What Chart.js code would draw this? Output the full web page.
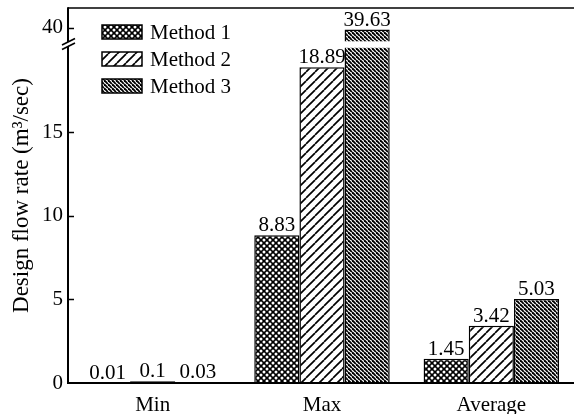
<!DOCTYPE html>
<html><head><meta charset="utf-8">
<script src="https://cdn.jsdelivr.net/npm/chart.js@4.4.1/dist/chart.umd.min.js"></script>
<style>html,body{margin:0;padding:0;overflow:hidden;background:#fff}</style>
</head><body>
<canvas id="c" width="578" height="414" style="display:block"></canvas>
<script>
const categories = ['Min', 'Max', 'Average'];
const seriesNames = ['Method 1', 'Method 2', 'Method 3'];
const method1 = [0.01, 8.83, 1.45];
const method2 = [0.1, 18.89, 3.42];
const method3 = [0.03, 39.63, 5.03];
const yTickValues = [0, 5, 10, 15, 40];

// broken axis: lower segment linear, upper segment compressed around 40
const BREAK_LOW = 19.5, UPPER_REF = 40, UPPER_POS = 21.24, UPPER_SLOPE = 0.27, Y_MAX = 22.43;
const GAP_HI = 20.44, GAP_LO = 20.05;
function mapY(v) { return v <= BREAK_LOW ? v : UPPER_POS - (UPPER_REF - v) * UPPER_SLOPE; }

const FONT = '"Liberation Serif", "Times New Roman", serif';
const FS = 21;
const canvas = document.getElementById('c');
const ctx = canvas.getContext('2d');

function tile(s, draw) {
  const t = document.createElement('canvas'); t.width = s; t.height = s;
  const g = t.getContext('2d'); draw(g, s); return ctx.createPattern(t, 'repeat');
}
const patCross = tile(6, (g, s) => {
  g.fillStyle = '#000'; g.fillRect(0, 0, s, s);
  g.fillStyle = '#fff';
  [[0, 0], [s, 0], [0, s], [s, s], [s / 2, s / 2]].forEach(([x, y]) => {
    g.beginPath(); g.arc(x, y, 1.5, 0, Math.PI * 2); g.fill();
  });
});
const patFwd = tile(9, (g, s) => {
  g.fillStyle = '#fff'; g.fillRect(0, 0, s, s);
  g.strokeStyle = '#000'; g.lineWidth = 1.7;
  for (let k = -1; k <= 1; k++) { g.beginPath(); g.moveTo(k * s, s); g.lineTo(k * s + s, 0); g.stroke(); }
});
const patBack = tile(4, (g, s) => {
  g.fillStyle = '#fff'; g.fillRect(0, 0, s, s);
  g.strokeStyle = '#000'; g.lineWidth = 1.9;
  for (let k = -1; k <= 1; k++) { g.beginPath(); g.moveTo(k * s, 0); g.lineTo(k * s + s, s); g.stroke(); }
});
const patterns = [patCross, patFwd, patBack];
const rawSeries = [method1, method2, method3];

const overlay = {
  id: 'overlay',
  afterDatasetsDraw(chart) {
    const c = chart.ctx, y = chart.scales.y;
    rawSeries.forEach((arr, di) => {
      chart.getDatasetMeta(di).data.forEach((bar, i) => {
        if (arr[i] > BREAK_LOW) {
          const hw = bar.width / 2 + 1.5;
          c.fillStyle = '#fff';
          c.fillRect(bar.x - hw, y.getPixelForValue(GAP_HI), hw * 2, y.getPixelForValue(GAP_LO) - y.getPixelForValue(GAP_HI));
        }
      });
    });
    c.save();
    c.font = FS + 'px ' + FONT; c.fillStyle = '#000'; c.textAlign = 'center'; c.textBaseline = 'alphabetic';
    rawSeries.forEach((arr, di) => {
      chart.getDatasetMeta(di).data.forEach((bar, i) => {
        c.fillText(String(arr[i]), bar.x, bar.y - 4);
      });
    });
    c.restore();
  },
  afterDraw(chart) {
    const c = chart.ctx, a = chart.chartArea, y = chart.scales.y;
    c.save();
    c.strokeStyle = '#000'; c.lineCap = 'butt';
    c.lineWidth = 1.5; c.beginPath(); c.moveTo(a.left, a.top); c.lineTo(chart.width, a.top); c.stroke();
    c.lineWidth = 2; c.beginPath(); c.moveTo(a.left, a.top - 0.75); c.lineTo(a.left, a.bottom + 1); c.stroke();
    c.beginPath(); c.moveTo(a.left - 1, a.bottom); c.lineTo(chart.width, a.bottom); c.stroke();
    c.lineWidth = 1.5;
    yTickValues.forEach(v => {
      if (v === 0) return;
      const py = Math.round(y.getPixelForValue(mapY(v))) + 0.5;
      c.beginPath(); c.moveTo(a.left, py); c.lineTo(a.left + 6, py); c.stroke();
    });
    const yb = (y.getPixelForValue(GAP_HI) + y.getPixelForValue(GAP_LO)) / 2 - 1;
    c.fillStyle = '#fff';
    c.beginPath();
    c.moveTo(a.left - 3, yb + 4); c.lineTo(a.left + 3, yb + 1); c.lineTo(a.left + 3, yb - 3); c.lineTo(a.left - 3, yb);
    c.closePath(); c.fill();
    c.lineWidth = 1.6;
    c.beginPath(); c.moveTo(a.left - 6, yb + 1.5); c.lineTo(a.left + 7, yb - 5); c.stroke();
    c.beginPath(); c.moveTo(a.left - 6, yb + 6); c.lineTo(a.left + 7, yb - 0.5); c.stroke();
    c.font = FS + 'px ' + FONT; c.textAlign = 'left'; c.textBaseline = 'middle';
    seriesNames.forEach((name, i) => {
      const bx = 102, by = 25 + 27 * i;
      c.fillStyle = patterns[i]; c.fillRect(bx, by, 40, 14);
      c.strokeStyle = '#000'; c.lineWidth = 1.5; c.strokeRect(bx, by, 40, 14);
      c.fillStyle = '#000'; c.fillText(name, 150, by + 8);
    });
    c.restore();
  }
};

new Chart(canvas, {
  type: 'bar',
  data: {
    labels: categories,
    datasets: rawSeries.map((arr, i) => ({
      label: seriesNames[i],
      data: arr.map(mapY),
      backgroundColor: patterns[i],
      borderColor: '#000',
      borderWidth: 1.5,
      borderSkipped: 'bottom'
    }))
  },
  options: {
    responsive: false,
    animation: false,
    events: [],
    layout: { padding: { left: 0, right: 2, top: 8, bottom: 0 } },
    datasets: { bar: { barPercentage: 1, categoryPercentage: 0.8 } },
    plugins: { legend: { display: false }, tooltip: { enabled: false } },
    scales: {
      x: {
        grid: { display: false, drawTicks: false },
        border: { display: false },
        ticks: { color: '#000', font: { family: FONT, size: FS }, padding: 10 },
        afterFit(s) { s.height = 31; s.paddingLeft = 0; s.paddingRight = 0; }
      },
      y: {
        min: 0, max: Y_MAX,
        grid: { display: false, drawTicks: false },
        border: { display: false },
        afterBuildTicks(s) { s.ticks = yTickValues.map(v => ({ value: mapY(v) })); },
        ticks: {
          color: '#000', font: { family: FONT, size: FS }, padding: 5,
          callback: (val, idx) => String(yTickValues[idx])
        },
        title: { display: true, text: 'Design flow rate (m³/sec)', color: '#000', font: { family: FONT, size: 23 }, padding: { top: 8, bottom: 0 } },
        afterFit(s) { s.width = 68; s.paddingTop = 0; s.paddingBottom = 0; }
      }
    }
  },
  plugins: [overlay]
});
</script>
</body></html>
